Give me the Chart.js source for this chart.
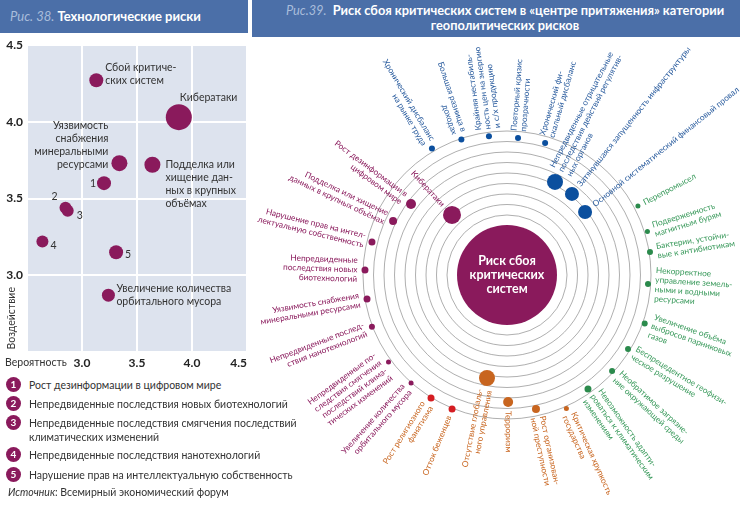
<!DOCTYPE html>
<html>
<head>
<meta charset="utf-8">
<script src="https://cdn.jsdelivr.net/npm/chart.js@4.4.1/dist/chart.umd.min.js"></script>
<style>
  body { margin: 0; width: 740px; height: 505px; position: relative; overflow: hidden; background: #fff; font-family: Lato, sans-serif; color: #333; }
  .hdr { position: absolute; top: 0; background: #4b6fa8; color: #fff; font-weight: bold; }
  .hdr i { font-weight: normal; color: #a9bddb; }
  #hdrLeft { left: 0; width: 248px; height: 33px; line-height: 33px; font-size: 13px; padding-left: 10px; box-sizing: border-box; }
  #hdrRight { left: 252px; width: 488px; height: 37px; font-size: 12.8px; line-height: 15px; text-align: center; padding: 3px 0 0 18px; box-sizing: border-box; }
  #techRisks { position: absolute; left: 0; top: 33px; }
  #gravity { position: absolute; left: 252px; top: 38px; }
  .leg { position: absolute; left: 29px; font-size: 10.5px; line-height: 14px; color: #333; }
  .leg b { position: absolute; left: -23px; top: -1px; width: 15px; height: 15px; border-radius: 50%; background: #8a1a5c; color: #fff; font-size: 10px; line-height: 15px; text-align: center; }
  #src { position: absolute; left: 8px; top: 486px; font-size: 10.5px; color: #333; }
</style>
</head>
<body>
<div class="hdr" id="hdrLeft"><i>Рис. 38.</i> Технологические риски</div>
<div class="hdr" id="hdrRight"><i>Рис.39.</i>&nbsp; Риск сбоя критических систем в «центре притяжения» категории<br>геополитических рисков</div>

<canvas id="techRisks" width="250" height="340"></canvas>
<canvas id="gravity" width="488" height="467"></canvas>

<div class="leg" style="top:378px"><b>1</b>Рост дезинформации в цифровом мире</div>
<div class="leg" style="top:397px"><b>2</b>Непредвиденные последствия новых биотехнологий</div>
<div class="leg" style="top:416px"><b>3</b>Непредвиденные последствия смягчения последствий<br>климатических изменений</div>
<div class="leg" style="top:448px"><b>4</b>Непредвиденные последствия нанотехнологий</div>
<div class="leg" style="top:468px"><b>5</b>Нарушение прав на интеллектуальную собственность</div>
<div id="src"><i>Источник</i>: Всемирный экономический форум</div>

<script>
const PURPLE = '#8a1a5c';
const FONT = 'Lato';

// Рис. 38: вероятность / воздействие технологических рисков
const techLabels = [
  ['Сбой критиче-', 'ских систем'],
  ['Кибератаки'],
  ['Уязвимость', 'снабжения', 'минеральными', 'ресурсами'],
  ['Подделка или', 'хищение дан-', 'ных в крупных', 'объёмах'],
  ['1'], ['2'], ['3'], ['4'], ['5'],
  ['Увеличение количества', 'орбитального мусора']
];
const probability = [3.13, 3.88, 3.34, 3.64, 3.20, 2.85, 2.87, 2.64, 3.31, 3.24];
const impact      = [4.27, 4.03, 3.73, 3.72, 3.60, 3.44, 3.42, 3.22, 3.15, 2.87];
const riskWeight  = [7, 13, 8, 8, 7, 6, 6, 6, 7, 6.5];
const axisTicks   = [2.5, 3.0, 3.5, 4.0, 4.5];

// where each caption sits next to its bubble: dx, dy of first line, alignment
const techLabelPlace = [
  [9, -13, 'left'], [1, -20, 'left'], [-11, -38, 'right'], [13, 0, 'left'],
  [-8, 0, 'right'], [-8, -11, 'right'], [9, 5, 'left'], [8, 4, 'left'], [9, 2, 'left'],
  [8, -7, 'left']
];

// Рис. 39: связи риска сбоя критических систем (азимут от верха, по часовой; удалённость; вес)
const econLabels = [
  ['Хронический дисбаланс', 'на рынке труда'],
  ['Большая разница в', 'доходах'],
  ['Крайняя нестабиль-', 'ность цен на энергию', 'и с/х продукцию'],
  ['Повторный кризис', 'прозрачности'],
  ['Хронический фи-', 'скальный дисбаланс'],
  ['Непредвиденные отрицательные', 'последствия действий регулятив-', 'ных органов'],
  ['Затянувшаяся запущенность инфраструктуры'],
  ['Основной систематический финансовый провал']
];
const econBearing  = [329.3, 341.4, 352.6, 4.6, 16.1, 27.3, 38.7, 51.1];
const econDistance = [147, 143, 140, 137.4, 137.4, 104.7, 103.9, 100.3];
const econWeight   = [3, 3, 3, 3, 3, 8, 7, 7];

const envLabels = [
  ['Перепромысел'],
  ['Подверженность', 'магнитным бурям'],
  ['Бактерии, устойчи-', 'вые к антибиотикам'],
  ['Некорректное', 'управление земель-', 'ными и водными', 'ресурсами'],
  ['Увеличение объёма', 'выбросов парниковых', 'газов'],
  ['Беспрецедентное геофизи-', 'ческое разрушение'],
  ['Необратимое загрязне-', 'ние окружающей среды'],
  ['Невозможность адапти-', 'роваться к климатическим', 'изменениям']
];
const envBearing  = [62.2, 72.8, 80.9, 93.7, 109.4, 121.4, 132.4, 144.6];
const envDistance = [148, 147, 144.8, 141.3, 146, 141.8, 142.3, 139.8];
const envWeight   = [2.5, 2.5, 3, 3, 3, 3, 3, 3.5];

const socLabels = [
  ['Критическая хрупкость', 'государства'],
  ['Рост организован-', 'ной преступности'],
  ['Терроризм'],
  ['Отсутствие глобаль-', 'ного управления'],
  ['Отток беженцев'],
  ['Рост религиозного', 'фанатизма']
];
const socBearing  = [156, 167.8, 179.5, 191, 202.3, 211.7];
const socDistance = [146, 137.1, 127, 104.9, 144.8, 144.6];
const socWeight   = [2.5, 4, 5, 8, 3.5, 3.5];
const socColors   = ['#c8651f', '#c8651f', '#c8651f', '#c8651f', '#d51d22', '#d51d22'];

const techRadialLabels = [
  ['Кибератаки'],
  ['Рост дезинформации в', 'цифровом мире'],
  ['Подделка или хищение', 'данных в крупных объёмах'],
  ['Нарушение прав на интел-', 'лектуальную собственность'],
  ['Непредвиденные', 'последствия новых', 'биотехнологий'],
  ['Уязвимость снабжения', 'минеральными ресурсами'],
  ['Непредвиденные послед-', 'ствия нанотехнологий'],
  ['Непредвиденные по-', 'следствия смягчения', 'последствий клима-', 'тических изменений'],
  ['Увеличение количества', 'орбитального мусора']
];
const techBearing  = [317.5, 306.5, 295.4, 283.7, 272, 260.3, 249, 233.7, 221.6];
const techDistance = [81.4, 119.4, 126.1, 139, 142.1, 142, 144.7, 147, 144.5];
const techWeight   = [9, 5, 4, 3.5, 3.5, 3.5, 3, 2.5, 2.5];

const ringRadii = [60, 70.5, 81, 91.5, 102, 112.5, 123, 133.5, 144];
const coreRadius = 50;
const coreText = ['Риск сбоя', 'критических', 'систем'];

// ---------- left chart ----------
const plotBg = {
  id: 'plotBg',
  beforeDraw(chart) {
    const { ctx, chartArea: a } = chart;
    ctx.save();
    ctx.fillStyle = '#dde3ee';
    ctx.fillRect(a.left, a.top, a.right - a.left, a.bottom - a.top);
    ctx.restore();
  }
};

const techCaptions = {
  id: 'techCaptions',
  afterDatasetsDraw(chart) {
    const { ctx, chartArea: a, scales: { y } } = chart;
    const pts = chart.getDatasetMeta(0).data;
    ctx.save();
    ctx.fillStyle = '#333';
    ctx.font = `10.5px ${FONT}`;
    ctx.textBaseline = 'middle';
    pts.forEach((p, i) => {
      const [dx, dy, align] = techLabelPlace[i];
      ctx.textAlign = align;
      techLabels[i].forEach((ln, k) => ctx.fillText(ln, p.x + dx, p.y + dy + k * 13));
    });
    // axis titles
    ctx.save();
    ctx.translate(12, y.getPixelForValue(2.72));
    ctx.rotate(-Math.PI / 2);
    ctx.textAlign = 'center';
    ctx.fillText('Воздействие', 0, 0);
    ctx.restore();
    ctx.textAlign = 'left';
    ctx.fillText('Вероятность', 5, a.bottom + 11);
    ctx.restore();
  }
};

// keep the plot box fixed: no extra room for edge tick labels
const noEdgePadding = s => {
  s.paddingLeft = 0; s.paddingRight = 0; s.paddingTop = 0; s.paddingBottom = 0;
};

new Chart(document.getElementById('techRisks'), {
  type: 'bubble',
  data: {
    datasets: [{
      data: probability.map((p, i) => ({ x: p, y: impact[i], r: riskWeight[i] })),
      backgroundColor: PURPLE,
      borderWidth: 0
    }]
  },
  options: {
    responsive: false,
    animation: false,
    events: [],
    layout: { autoPadding: false, padding: { top: 12, right: 3 } },
    plugins: { legend: { display: false }, tooltip: { enabled: false } },
    scales: {
      x: {
        type: 'linear', min: 2.5, max: 4.5,
        afterBuildTicks: s => { s.ticks = axisTicks.map(v => ({ value: v })); },
        afterFit: s => { s.height = 21; noEdgePadding(s); },
        ticks: { align: 'inner', padding: 4, color: '#222', font: { family: FONT, weight: 'bold', size: 12 },
                 callback: v => v === 2.5 ? '' : v.toFixed(1) },
        grid: { color: '#fff', lineWidth: 2, drawTicks: false },
        border: { display: false }
      },
      y: {
        type: 'linear', min: 2.5, max: 4.5,
        afterBuildTicks: s => { s.ticks = axisTicks.map(v => ({ value: v })); },
        afterFit: s => { s.width = 27; noEdgePadding(s); },
        ticks: { padding: 4, color: '#222', font: { family: FONT, weight: 'bold', size: 12 },
                 callback: v => v === 2.5 ? '' : v.toFixed(1) },
        grid: { color: '#fff', lineWidth: 2, drawTicks: false },
        border: { display: false }
      }
    }
  },
  plugins: [plotBg, techCaptions]
});

// ---------- right chart ----------
const toPoints = (bearing, dist, weight) => bearing.map((b, i) => ({
  x: dist[i] * Math.sin(b * Math.PI / 180),
  y: dist[i] * Math.cos(b * Math.PI / 180),
  r: weight[i]
}));

const rings = {
  id: 'rings',
  beforeDatasetsDraw(chart) {
    const { ctx, scales: { x, y } } = chart;
    const cx = x.getPixelForValue(0), cy = y.getPixelForValue(0);
    const px = v => x.getPixelForValue(v) - cx;
    ctx.save();
    ctx.strokeStyle = '#9a9a9a';
    ctx.lineWidth = 0.8;
    ringRadii.forEach(r => {
      ctx.beginPath();
      ctx.arc(cx, cy, px(r), 0, Math.PI * 2);
      ctx.stroke();
    });
    ctx.fillStyle = PURPLE;
    ctx.beginPath();
    ctx.arc(cx, cy, px(coreRadius), 0, Math.PI * 2);
    ctx.fill();
    ctx.fillStyle = '#fff';
    ctx.font = `bold 12.5px ${FONT}`;
    ctx.textAlign = 'center';
    ctx.textBaseline = 'middle';
    coreText.forEach((t, k) => ctx.fillText(t, cx, cy + (k - 1) * 14));
    ctx.restore();
  }
};

const radialLabels = {
  id: 'radialLabels',
  afterDatasetsDraw(chart) {
    const { ctx, scales: { x, y } } = chart;
    const cx = x.getPixelForValue(0), cy = y.getPixelForValue(0);
    ctx.save();
    ctx.font = `8.3px ${FONT}`;
    ctx.textBaseline = 'middle';
    chart.data.datasets.forEach((ds, di) => {
      chart.getDatasetMeta(di).data.forEach((p, i) => {
        const lines = ds.labelLines[i];
        const ang = Math.atan2(p.y - cy, p.x - cx);
        const outward = Math.cos(ang) > -0.15;
        const gap = ds.data[i].r + 4;
        ctx.save();
        ctx.translate(p.x, p.y);
        ctx.rotate(outward ? ang : ang + Math.PI);
        ctx.textAlign = outward ? 'left' : 'right';
        ctx.fillStyle = ds.textColor;
        lines.forEach((ln, k) => ctx.fillText(ln, outward ? gap : -gap, (k - (lines.length - 1) / 2) * 9.5));
        ctx.restore();
      });
    });
    ctx.restore();
  }
};

new Chart(document.getElementById('gravity'), {
  type: 'bubble',
  data: {
    datasets: [
      { data: toPoints(econBearing, econDistance, econWeight), backgroundColor: '#0b4f9e', textColor: '#2a5c9e', labelLines: econLabels },
      { data: toPoints(envBearing, envDistance, envWeight), backgroundColor: '#2b8a4c', textColor: '#3a9a5c', labelLines: envLabels },
      { data: toPoints(socBearing, socDistance, socWeight), backgroundColor: socColors, textColor: '#c8651f', labelLines: socLabels },
      { data: toPoints(techBearing, techDistance, techWeight), backgroundColor: PURPLE, textColor: '#8a1a5c', labelLines: techRadialLabels }
    ]
  },
  options: {
    responsive: false,
    animation: false,
    events: [],
    layout: { autoPadding: false, padding: 0 },
    elements: { point: { borderWidth: 0 } },
    plugins: { legend: { display: false }, tooltip: { enabled: false } },
    scales: {
      x: { type: 'linear', min: -255, max: 233, display: false },
      y: { type: 'linear', min: -230, max: 237, display: false }
    }
  },
  plugins: [rings, radialLabels]
});
</script>
</body>
</html>
